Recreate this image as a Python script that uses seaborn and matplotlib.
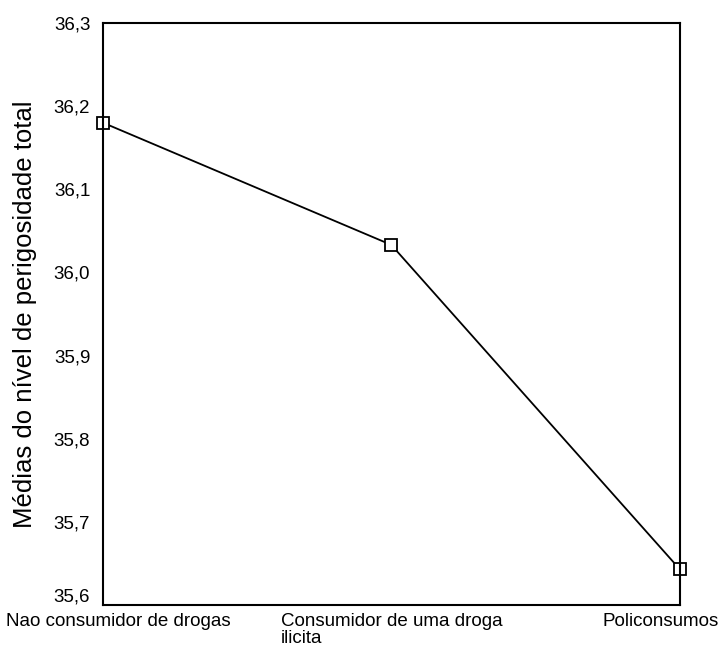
import matplotlib
matplotlib.use("Agg")
import matplotlib.pyplot as plt
import matplotlib.transforms as mtransforms
import pandas as pd
import seaborn as sns

# data
categories = ["Nao consumidor de drogas", "Consumidor de uma droga\nilicita", "Policonsumos"]
means = [36.18, 36.033, 35.643]
y_ticks = [35.6, 35.7, 35.8, 35.9, 36.0, 36.1, 36.2, 36.3]

df = pd.DataFrame({"grupo": categories, "media": means})

sns.set_style("white")
plt.rcParams["font.family"] = ["Liberation Sans", "DejaVu Sans"]

fig = plt.figure(figsize=(7.24, 6.52), dpi=100)
ax = fig.add_axes([0.142, 0.072, 0.797, 0.893])

sns.lineplot(data=df, x="grupo", y="media", sort=False, color="black", linewidth=1.3,
             marker="s", markersize=8, markerfacecolor="white", markeredgecolor="black",
             markeredgewidth=1.3, clip_on=False, ax=ax)

ax.set_xlim(0, 2)
ax.set_ylim(35.6, 36.3)
ax.set_yticks(y_ticks)
ax.set_yticklabels([f"{v:.1f}".replace(".", ",") for v in y_ticks])
ax.set_xticks(range(len(categories)))
ax.set_xticklabels(categories, multialignment="left", linespacing=1.0)

for s in ax.spines.values():
    s.set_color("black")
    s.set_linewidth(1.5)

ax.tick_params(axis="both", direction="out", length=3, width=3, color="black",
               labelsize=13.5, labelcolor="black")
ax.tick_params(axis="y", pad=6)
ax.tick_params(axis="x", pad=3)

# shift the end labels inward like the original
px = lambda dx, dy: mtransforms.ScaledTranslation(dx / 100, dy / 100, fig.dpi_scale_trans)
labels = ax.get_xticklabels()
labels[0].set_transform(labels[0].get_transform() + px(16, 0))
labels[-1].set_transform(labels[-1].get_transform() + px(-19, 0))
ylabels = ax.get_yticklabels()
ylabels[0].set_transform(ylabels[0].get_transform() + px(0, 10))

ax.set_xlabel("")
ax.set_ylabel("Médias do nível de perigosidade total", fontsize=18.5, color="black", labelpad=12)

fig.savefig("out.png", dpi=100)
